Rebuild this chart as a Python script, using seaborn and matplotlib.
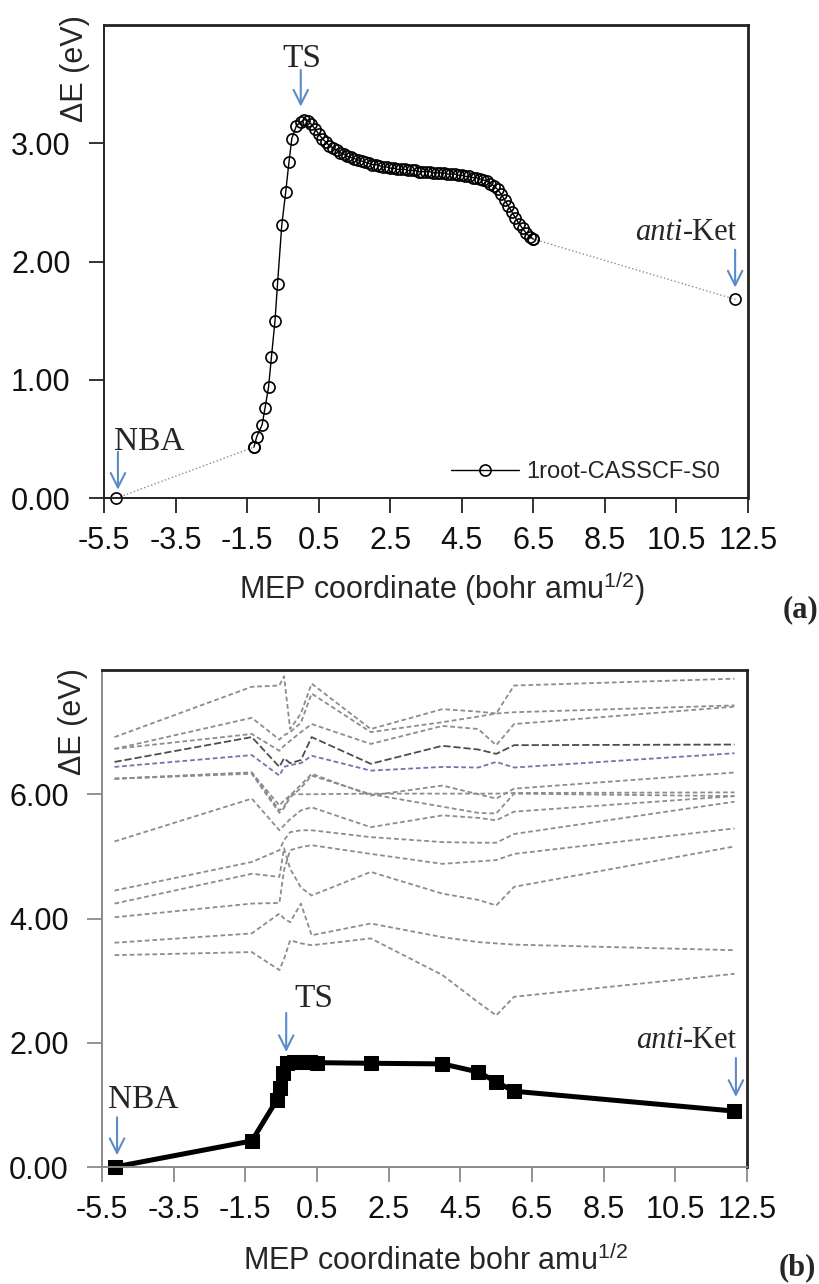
import matplotlib
matplotlib.use('Agg')
import matplotlib.pyplot as plt
import seaborn as sns
import pandas as pd

# ---- panel (a): 1root-CASSCF S0 along the MEP ----
nba_x, nba_y = -5.15, 0.00
anti_x, anti_y = 12.15, 1.68
s0a_x = [-1.31, -1.23, -1.08, -1.00, -0.90, -0.82, -0.72, -0.65, -0.53, -0.42, -0.33, -0.25, -0.12,
         0.0, 0.1, 0.2, 0.3, 0.4, 0.5, 0.6, 0.7, 0.8, 0.9, 1.0, 1.1, 1.2, 1.3, 1.4, 1.5, 1.6, 1.7,
         1.8, 1.9, 2.0, 2.1, 2.2, 2.3, 2.4, 2.5, 2.6, 2.7, 2.8, 2.9, 3.0, 3.1, 3.2, 3.3, 3.4, 3.5,
         3.6, 3.7, 3.8, 3.9, 4.0, 4.1, 4.2, 4.3, 4.4, 4.5, 4.6, 4.7, 4.8, 4.9, 5.0, 5.1, 5.2, 5.3,
         5.4, 5.5, 5.6, 5.7, 5.8, 5.9, 6.0, 6.1, 6.2, 6.3, 6.4, 6.5]
s0a_y = [0.43, 0.52, 0.62, 0.76, 0.94, 1.19, 1.50, 1.81, 2.31, 2.59, 2.84, 3.04, 3.15,
         3.18, 3.20, 3.19, 3.16, 3.12, 3.08, 3.04, 3.01, 2.98, 2.96, 2.94, 2.92, 2.91, 2.89, 2.88,
         2.87, 2.86, 2.85, 2.84, 2.83, 2.82, 2.82, 2.81, 2.80, 2.80, 2.79, 2.79, 2.78, 2.78, 2.78,
         2.77, 2.77, 2.77, 2.76, 2.76, 2.76, 2.76, 2.75, 2.75, 2.75, 2.75, 2.74, 2.74, 2.74, 2.73,
         2.73, 2.72, 2.72, 2.71, 2.71, 2.70, 2.69, 2.68, 2.66, 2.64, 2.61, 2.57, 2.52, 2.47, 2.42,
         2.37, 2.32, 2.28, 2.24, 2.21, 2.19]

# ---- panel (b): S0 (bold) and excited roots (dashed) ----
s0b_x = [-5.15, -1.32, -0.62, -0.53, -0.45, -0.34, -0.15, 0.05, 0.30, 0.50, 2.0, 4.0, 5.0, 5.5, 6.0, 12.15]
s0b_y = [0.00, 0.42, 1.08, 1.27, 1.51, 1.67, 1.69, 1.69, 1.69, 1.68, 1.67, 1.66, 1.53, 1.37, 1.22, 0.90]

exc_x = [-5.15, -1.32, -0.55, -0.42, -0.25, 0.05, 0.35, 2.0, 4.0, 5.0, 5.5, 6.0, 12.15]
exc_1 = [6.92, 7.73, 7.75, 7.90, 7.05, 7.30, 7.78, 7.05, 7.37, 7.33, 7.30, 7.75, 7.86]
exc_2 = [6.73, 7.23, 6.88, 6.95, 7.00, 7.15, 7.62, 7.00, 7.16, 7.25, 7.30, 7.32, 7.43]
exc_3 = [6.73, 6.97, 6.70, 6.78, 6.86, 7.00, 7.13, 6.81, 7.10, 7.05, 6.79, 7.13, 7.41]
exc_4 = [6.52, 6.92, 6.44, 6.58, 6.50, 6.55, 6.92, 6.49, 6.78, 6.72, 6.65, 6.79, 6.80]
exc_5 = [6.44, 6.63, 6.30, 6.44, 6.47, 6.50, 6.62, 6.38, 6.44, 6.43, 6.52, 6.43, 6.66]
exc_6 = [6.25, 6.35, 5.82, 5.90, 5.98, 6.15, 6.33, 5.98, 6.14, 6.00, 5.93, 6.09, 6.35]
exc_7 = [6.25, 6.35, 5.74, 5.80, 6.00, 6.00, 6.00, 6.01, 6.01, 6.01, 6.01, 6.02, 6.03]
exc_8 = [6.25, 6.33, 5.70, 5.78, 5.95, 6.10, 6.30, 6.00, 5.80, 5.70, 5.69, 6.01, 5.97]
exc_9 = [5.24, 5.93, 5.42, 5.50, 5.60, 5.74, 5.79, 5.47, 5.66, 5.62, 5.58, 5.72, 5.97]
exc_10 = [4.45, 4.91, 5.10, 5.26, 5.39, 5.42, 5.42, 5.31, 5.23, 5.22, 5.22, 5.36, 5.88]
exc_11 = [4.02, 4.24, 4.25, 4.78, 5.10, 5.15, 5.18, 5.04, 4.88, 4.92, 4.94, 5.04, 5.45]
exc_12 = [4.24, 4.72, 4.67, 5.13, 4.80, 4.50, 4.37, 4.75, 4.40, 4.30, 4.21, 4.51, 5.16]
exc_13 = [3.61, 3.76, 4.08, 4.00, 3.94, 4.24, 3.73, 3.92, 3.70, 3.62, 3.60, 3.58, 3.49]
exc_14 = [3.41, 3.46, 3.17, 3.35, 3.65, 3.60, 3.57, 3.68, 3.09, 2.65, 2.44, 2.74, 3.11]
exc_all = [exc_1, exc_2, exc_3, exc_4, exc_5, exc_6, exc_7, exc_8, exc_9, exc_10,
           exc_11, exc_12, exc_13, exc_14]

x_ticks = [-5.5, -3.5, -1.5, 0.5, 2.5, 4.5, 6.5, 8.5, 10.5, 12.5]
ya_ticks = [0, 1, 2, 3]
yb_ticks = [0, 2, 4, 6]

# styles
blue = '#5b8bc9'
grey = '#8c8c8c'
exc_colors = {4: '#4d4d4d', 5: '#8469ad'}

sns.set_style('ticks')
plt.rcParams['font.family'] = ['Liberation Sans', 'DejaVu Sans']
plt.rcParams['axes.unicode_minus'] = False
plt.rcParams['mathtext.fontset'] = 'custom'
plt.rcParams['mathtext.rm'] = 'Liberation Sans'
plt.rcParams['mathtext.it'] = 'Liberation Sans:italic'

fig = plt.figure(figsize=(8.2, 12.84), dpi=100)
ax1 = fig.add_axes([0.1268, 0.6121, 0.7854, 0.3684])
ax2 = fig.add_axes([0.1244, 0.0911, 0.7866, 0.3871])


def style_axes(ax, yticks, ymax, side_col):
    ax.set_xlim(-5.5, 12.5)
    ax.set_ylim(0, ymax)
    ax.set_xticks(x_ticks)
    ax.set_xticklabels([f'{t:.1f}' for t in x_ticks])
    ax.set_yticks(yticks)
    ax.set_yticklabels([f'{t:.2f}' for t in yticks])
    ax.tick_params(axis='both', direction='out', length=11, width=1.3, labelsize=22,
                   color=side_col, labelcolor='#111111')
    ax.tick_params(axis='x', pad=9)
    ax.tick_params(axis='y', pad=13)
    for s in ['left', 'bottom']:
        ax.spines[s].set_color(side_col)
        ax.spines[s].set_linewidth(1.4)
    for s in ['top', 'right']:
        ax.spines[s].set_color('#222222')
        ax.spines[s].set_linewidth(2.0)
    ax.grid(False)


def arrow(ax, x, y0, y1):
    ax.annotate('', xy=(x, y1), xytext=(x, y0),
                arrowprops=dict(arrowstyle='->', color=blue, lw=1.5,
                                shrinkA=0, shrinkB=0, mutation_scale=26))


def anti_ket(ax, x, y):
    ax.text(x, y, 'anti', fontsize=22, family='Liberation Serif', style='italic',
            ha='right', va='baseline')
    ax.text(x, y, '-Ket', fontsize=22, family='Liberation Serif', ha='left', va='baseline')


# ---------- panel (a) ----------
sns.lineplot(x=[nba_x, s0a_x[0]], y=[nba_y, s0a_y[0]], ax=ax1, color=grey, lw=1.0,
             linestyle=':', marker='o', markersize=8, markerfacecolor='none',
             markeredgecolor='black', markeredgewidth=1.2, errorbar=None, clip_on=False)
sns.lineplot(x=[s0a_x[-1], anti_x], y=[s0a_y[-1], anti_y], ax=ax1, color=grey, lw=1.0,
             linestyle=':', marker='o', markersize=8, markerfacecolor='none',
             markeredgecolor='black', markeredgewidth=1.2, errorbar=None, clip_on=False)
sns.lineplot(x=s0a_x, y=s0a_y, ax=ax1, color='black', lw=1.0, marker='o', markersize=8,
             markerfacecolor='none', markeredgecolor='black', markeredgewidth=1.2,
             sort=False, errorbar=None, label='1root-CASSCF-S0', clip_on=False)

style_axes(ax1, ya_ticks, 4, '#222222')
ax1.set_xlabel('MEP coordinate (bohr amu$^{1/2}$)', fontsize=22)
ax1.xaxis.set_label_coords(0.525, -0.15)
ax1.set_ylabel('\u0394E (eV)', fontsize=22, loc='top')
ax1.yaxis.set_label_coords(-0.022, 1.021)
ax1.legend(loc='center right', bbox_to_anchor=(0.975, 0.055), frameon=False, fontsize=17,
           handlelength=2.9, handletextpad=0.3, borderpad=0)

ax1.text(0.03, 3.645, 'TS', fontsize=24, family='Liberation Serif', ha='center', va='baseline')
arrow(ax1, 0.0, 3.62, 3.31)
ax1.text(-5.22, 0.406, 'NBA', fontsize=24, family='Liberation Serif', ha='left', va='baseline')
arrow(ax1, -5.11, 0.39, 0.07)
anti_ket(ax1, 10.68, 2.18)
arrow(ax1, 12.14, 2.10, 1.78)

# ---------- panel (b) ----------
for i, ys in enumerate(exc_all, start=1):
    col = exc_colors.get(i, grey)
    dash = (0, (4, 1.6)) if i == 4 else (0, (2.6, 1.6))
    sns.lineplot(x=exc_x, y=ys, ax=ax2, color=col, lw=1.3, linestyle=dash,
                 sort=False, errorbar=None)

sns.lineplot(x=s0b_x, y=s0b_y, ax=ax2, color='black', lw=3.6, marker='s', markersize=10,
             markeredgecolor='black', markerfacecolor='black', sort=False,
             errorbar=None, clip_on=False)

style_axes(ax2, yb_ticks, 8, '#8a8a8a')
ax2.set_xlabel('MEP coordinate bohr amu$^{1/2}$', fontsize=22)
ax2.xaxis.set_label_coords(0.518, -0.157)
ax2.set_ylabel('\u0394E (eV)', fontsize=22, loc='top')
ax2.yaxis.set_label_coords(-0.022, 1.004)

ax2.text(0.41, 2.575, 'TS', fontsize=24, family='Liberation Serif', ha='center', va='baseline')
arrow(ax2, -0.36, 2.48, 1.85)
ax2.text(-5.33, 0.95, 'NBA', fontsize=24, family='Liberation Serif', ha='left', va='baseline')
arrow(ax2, -5.08, 0.80, 0.19)
anti_ket(ax2, 10.72, 1.915)
arrow(ax2, 12.19, 1.755, 1.127)

fig.text(0.955, 0.5195, '(a)', fontsize=22, family='Liberation Serif', weight='bold',
         ha='left', va='baseline')
fig.text(0.995, 0.007, '(b)', fontsize=22, family='Liberation Serif', weight='bold',
         ha='right', va='baseline')

fig.savefig('out.png', dpi=100)
